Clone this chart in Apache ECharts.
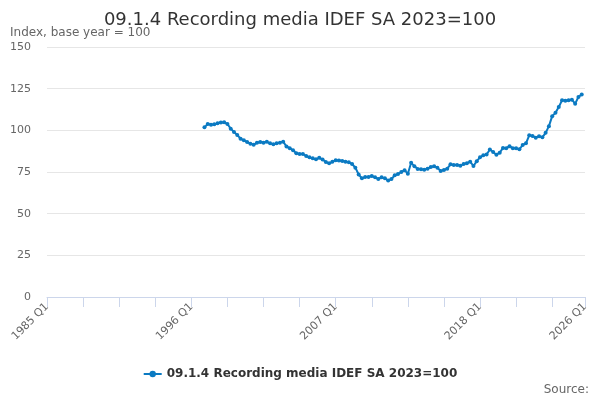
<!DOCTYPE html>
<html lang="en">
<head>
    <meta charset="utf-8">
    <title>09.1.4 Recording media IDEF SA 2023=100</title>
    <script src="https://cdn.jsdelivr.net/npm/echarts@6.0.0/dist/echarts.min.js"></script>
    <style>
        html, body { margin: 0; padding: 0; background: #fff; }
    </style>
</head>
<body>
<div id="main" style="width: 600px;height:400px;"></div>
<script type="text/javascript">
    // quarters on the axis: 1985 Q1 .. 2026 Q1
    var firstYear = 1985;
    var lastYear = 2026;
    var seriesName = '09.1.4 Recording media IDEF SA 2023=100';
    // series starts 1997 Q1, ends 2025 Q4
    var startQuarter = '1997 Q1';
    var values = [
        101.8, 103.8, 103.4, 103.6,
        104.2, 104.7, 104.8, 103.8,
        101.0, 99.0, 97.2, 95.0,
        94.0, 93.0, 92.0, 91.3,
        92.6, 93.0, 92.6, 93.1,
        92.2, 91.6, 92.2, 92.6,
        93.2, 90.3, 89.3, 88.0,
        86.3, 85.8, 85.8, 84.6,
        83.8, 83.2, 82.6, 83.5,
        82.5, 81.0, 80.2, 81.1,
        82.1, 81.9, 81.6, 81.2,
        80.8, 79.8, 77.6, 73.5,
        71.2, 72.0, 72.0, 72.6,
        71.8, 70.8, 71.8, 71.2,
        69.9, 70.8, 73.0, 73.8,
        75.0, 76.0, 74.0, 80.6,
        78.4, 76.8, 76.7, 76.4,
        77.0, 78.0, 78.5, 77.6,
        75.6, 76.2, 77.0, 79.6,
        79.2, 79.2, 78.7, 79.8,
        80.3, 81.2, 78.6, 81.5,
        83.8, 85.0, 85.5, 88.5,
        87.0, 85.4, 86.6, 89.4,
        89.3, 90.5, 89.2, 89.2,
        88.6, 91.2, 92.2, 97.0,
        96.6, 95.6, 96.5, 95.8,
        98.5, 102.5, 108.5, 110.5,
        114.0, 118.0, 117.8, 118.0,
        118.4, 116.0, 120.0, 121.5
    ];
    var yTicks = [0, 25, 50, 75, 100, 125, 150];

    var quarters = [];
    for (let y = firstYear; y <= lastYear; y++) {
        for (let q = 1; q <= 4; q++) {
            quarters.push(y + ' Q' + q);
            if (y === lastYear) break;
        }
    }
    var lastIdx = quarters.length - 1;
    var offset = quarters.indexOf(startQuarter);
    var data = quarters.map(function (c, i) {
        let v = values[i - offset];
        return v === undefined ? null : v;
    });

    var font = 'DejaVu Sans, sans-serif';
    var myChart = echarts.init(document.getElementById('main'));
    var option = {
        animation: false,
        textStyle: { fontFamily: font },
        title: [{
            text: seriesName,
            left: 'center',
            top: 6,
            textStyle: { fontSize: 18, fontWeight: 'normal', color: '#333', fontFamily: font }
        }, {
            text: 'Index, base year = 100',
            left: 5,
            top: 22,
            textStyle: { fontSize: 12, fontWeight: 'normal', color: '#666', fontFamily: font }
        }, {
            text: 'Source:',
            right: 6,
            top: 379,
            textStyle: { fontSize: 12, fontWeight: 'normal', color: '#666', fontFamily: font }
        }],
        legend: {
            data: [seriesName],
            bottom: 15,
            left: 'center',
            itemWidth: 18,
            itemHeight: 8,
            textStyle: { fontSize: 12, fontWeight: 'bold', color: '#333', fontFamily: font }
        },
        grid: { left: 47, right: 15, top: 47, bottom: 103, containLabel: false },
        xAxis: {
            type: 'category',
            data: quarters,
            boundaryGap: false,
            axisLine: { lineStyle: { color: '#ccd6eb' } },
            axisTick: {
                length: 10,
                lineStyle: { color: '#ccd6eb' },
                interval: function (i) { return i % 11 === 0 || i === lastIdx; }
            },
            axisLabel: {
                rotate: 45,
                color: '#666',
                fontSize: 11,
                margin: 8,
                interval: function (i) { return i % 44 === 0 || i === lastIdx; }
            }
        },
        yAxis: {
            type: 'value',
            min: yTicks[0],
            max: yTicks[yTicks.length - 1],
            interval: 25,
            axisLine: { show: false },
            axisTick: { show: false },
            axisLabel: { color: '#666', fontSize: 11, margin: 16 },
            splitLine: { lineStyle: { color: '#e6e6e6' } }
        },
        series: [{
            name: seriesName,
            type: 'line',
            data: data,
            symbol: 'circle',
            symbolSize: 4,
            showSymbol: true,
            showAllSymbol: true,
            itemStyle: { color: '#0b7ac2' },
            lineStyle: { width: 2, color: '#0b7ac2' }
        }]
    };
    myChart.setOption(option);
</script>
</body>
</html>
